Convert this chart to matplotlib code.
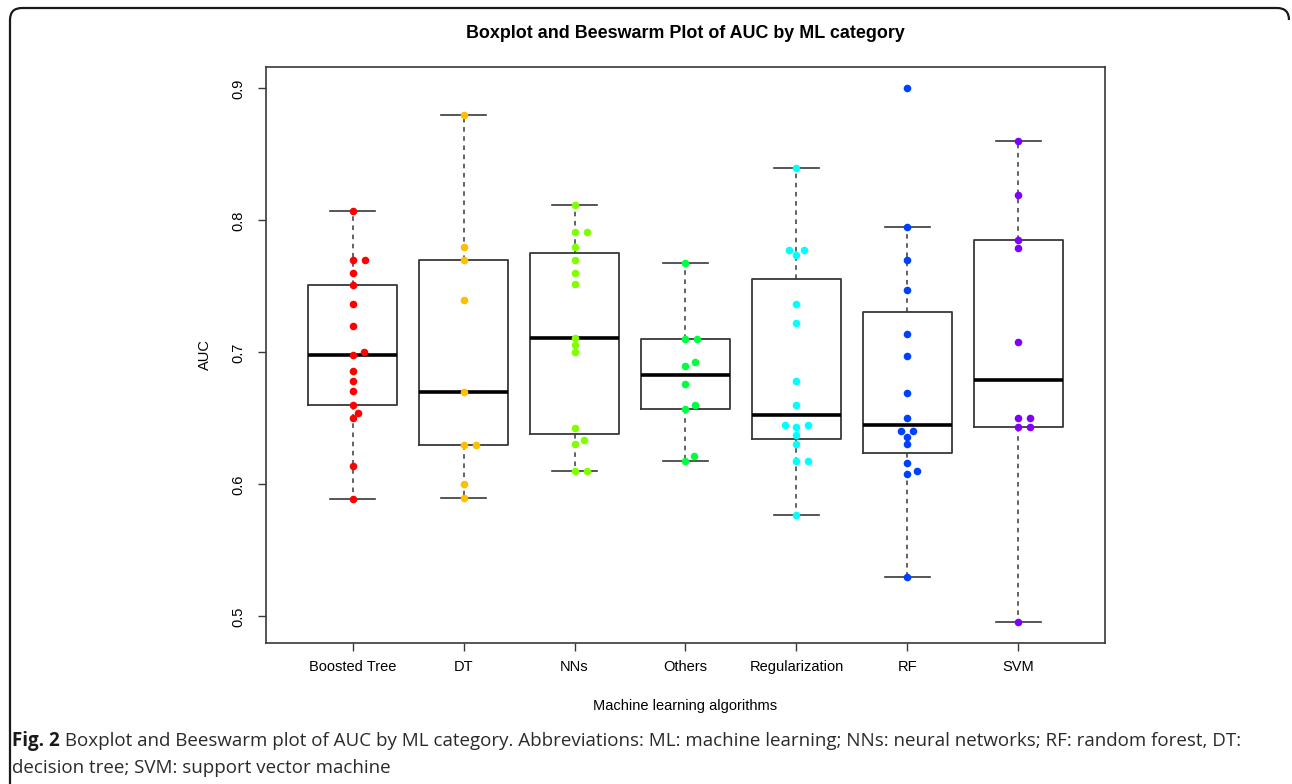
import numpy as np
import matplotlib
matplotlib.use("Agg")
import matplotlib.pyplot as plt
from matplotlib.path import Path
from matplotlib.patches import PathPatch

# ---------------- data ----------------
categories = ["Boosted Tree", "DT", "NNs", "Others", "Regularization", "RF", "SVM"]
boosted_tree = [0.807, 0.770, 0.770, 0.760, 0.751, 0.737, 0.720, 0.700, 0.698,
                0.686, 0.678, 0.6705, 0.660, 0.6543, 0.650, 0.614, 0.589]
dt = [0.880, 0.780, 0.770, 0.740, 0.670, 0.630, 0.630, 0.600, 0.590]
nns = [0.812, 0.791, 0.791, 0.780, 0.770, 0.760, 0.7515, 0.7108, 0.7056, 0.700,
       0.6424, 0.6333, 0.6303, 0.610, 0.610]
others = [0.768, 0.710, 0.710, 0.693, 0.690, 0.676, 0.660, 0.657, 0.6215, 0.618]
regularization = [0.840, 0.7775, 0.7775, 0.7738, 0.737, 0.7225, 0.678, 0.660,
                  0.6447, 0.6447, 0.6434, 0.6374, 0.6306, 0.618, 0.618, 0.5765]
rf = [0.900, 0.795, 0.770, 0.747, 0.714, 0.697, 0.669, 0.650, 0.6404, 0.6404,
      0.6361, 0.6306, 0.6164, 0.6104, 0.6076, 0.530]
svm = [0.860, 0.819, 0.785, 0.779, 0.7076, 0.6505, 0.6505, 0.6434, 0.6434, 0.496]
groups = [boosted_tree, dt, nns, others, regularization, rf, svm]
colors = ["#FF0000", "#FFBF00", "#80FF00", "#00FF40", "#00FFFF", "#0040FF", "#8000FF"]
y_ticks = [0.5, 0.6, 0.7, 0.8, 0.9]

title = "Boxplot and Beeswarm Plot of AUC by ML category"
xlabel = "Machine learning algorithms"
ylabel = "AUC"
cap_bold = "Fig. 2"
cap_line1 = (" Boxplot and Beeswarm plot of AUC by ML category. Abbreviations: ML: machine "
             "learning; NNs: neural networks; RF: random forest, DT:")
cap_line2 = "decision tree; SVM: support vector machine"

# ---------------- helpers ----------------
def fivenum(v):
    x = np.sort(np.asarray(v, dtype=float))
    n = len(x)
    n4 = np.floor((n + 3) / 2) / 2
    d = np.array([1, n4, (n + 1) / 2, n + 1 - n4, n]) - 1
    return 0.5 * (x[np.floor(d).astype(int)] + x[np.ceil(d).astype(int)])


def box_stats(v, label):
    x = np.asarray(v, dtype=float)
    mn, q1, med, q3, mx = fivenum(x)
    iqr = q3 - q1
    lo = x[x >= q1 - 1.5 * iqr].min()
    hi = x[x <= q3 + 1.5 * iqr].max()
    return dict(med=med, q1=q1, q3=q3, whislo=lo, whishi=hi, fliers=[], label=label)


def swarm(values, xsize, ysize):
    vals = np.asarray(values, dtype=float)
    order = np.argsort(vals, kind="stable")
    offs = np.zeros(len(vals))
    placed = []
    for i in order:
        y = vals[i]
        cands = [0.0]
        for px, py in placed:
            dy = abs(y - py)
            if dy < ysize:
                w = xsize * np.sqrt(1 - (dy / ysize) ** 2)
                cands += [px + w, px - w]
        ok = [c for c in cands
              if all(((c - px) / xsize) ** 2 + ((y - py) / ysize) ** 2 >= 1 - 1e-9
                     for px, py in placed)]
        best = min(ok, key=lambda c: (abs(c), -c))
        offs[i] = best
        placed.append((best, y))
    return offs

# ---------------- figure ----------------
W, H = 1292, 784
fig = plt.figure(figsize=(W / 100, H / 100), dpi=100)
fig.patch.set_facecolor("white")
plt.rcParams["font.family"] = ["Liberation Sans", "DejaVu Sans"]

L, R, T, B = 266, 1105, 67, 643
ax = fig.add_axes([L / W, 1 - B / H, (R - L) / W, (B - T) / H])

pos = np.arange(1, len(categories) + 1)
stats = [box_stats(g, c) for g, c in zip(groups, categories)]
edge = "#383838"
ax.bxp(stats, positions=pos, widths=0.8, capwidths=0.4, showfliers=False,
       boxprops=dict(color=edge, linewidth=1.3),
       whiskerprops=dict(color=edge, linewidth=1.1, linestyle=(0, (3, 3))),
       capprops=dict(color=edge, linewidth=1.2),
       medianprops=dict(color="black", linewidth=2.6, solid_capstyle="butt"))

allv = np.concatenate([np.asarray(g) for g in groups])
lo, hi = allv.min(), allv.max()
pad = 0.04 * (hi - lo)
ax.set_ylim(lo - pad, hi + pad)
npos = len(categories)
xpad = 0.04 * npos
ax.set_xlim(0.5 - xpad, npos + 0.5 + xpad)

# swarm sizes in data units from pixel sizes
ppu_y = (B - T) / (hi - lo + 2 * pad)
ppu_x = (R - L) / (npos + 2 * xpad)
xsize = 12.0 / ppu_x
ysize = 6.5 / ppu_y

for p, g, c in zip(pos, groups, colors):
    offs = swarm(g, xsize, ysize)
    ax.scatter(p + offs, g, s=30, color=c, linewidths=0, zorder=5)

ax.set_xticks(pos)
ax.set_xticklabels(categories, fontsize=10.5)
ax.set_yticks(y_ticks)
ax.set_yticklabels([f"{t:.1f}" for t in y_ticks], fontsize=10.5, rotation=90, va="center")
ax.tick_params(axis="x", length=5.5, width=1.0, color=edge, pad=7)
ax.tick_params(axis="y", length=5.5, width=1.0, color=edge, pad=9)
for s in ax.spines.values():
    s.set_color(edge)
    s.set_linewidth(1.2)

ax.set_xlabel(xlabel, fontsize=10.5)
ax.xaxis.set_label_coords(0.5, (B - 706) / (B - T))
ax.xaxis.label.set_va("center")
ax.set_ylabel(ylabel, fontsize=10.5)
ax.yaxis.set_label_coords((205 - L) / (R - L), 0.5)
ax.yaxis.label.set_va("center")

fig.text(((L + R) / 2) / W, 1 - 33 / H, title, ha="center", va="center",
         fontsize=12.9, fontweight="bold")

# ---------------- caption ----------------
cap_font = ["Open Sans", "DejaVu Sans"]
cap_size = 13.5
t1 = fig.text(12 / W, 1 - 741 / H, cap_bold, ha="left", va="center",
              fontsize=cap_size, fontweight="bold", family=cap_font, color="#1a1a1a")
fig.canvas.draw()
bb = t1.get_window_extent()
fig.text(bb.x1 / W, 1 - 741 / H, cap_line1, ha="left", va="center",
         fontsize=cap_size, family=cap_font, color="#2a2a2a")
fig.text(12 / W, 1 - 768 / H, cap_line2, ha="left", va="center",
         fontsize=cap_size, family=cap_font, color="#2a2a2a")

# ---------------- outer rounded border ----------------
r = 12
xl, xr, yt = 10, 1289, 8
verts = [(xl, H + 5), (xl, yt + r), (xl, yt), (xl + r, yt), (xr - r, yt), (xr, yt), (xr, yt + r)]
codes = [Path.MOVETO, Path.LINETO, Path.CURVE3, Path.CURVE3, Path.LINETO, Path.CURVE3, Path.CURVE3]
verts_f = [(vx / W, 1 - vy / H) for vx, vy in verts]
fig.patches.append(PathPatch(Path(verts_f, codes), transform=fig.transFigure,
                             facecolor="none", edgecolor="#1a1a1a", linewidth=1.6))

fig.savefig("out.png", dpi=100)
